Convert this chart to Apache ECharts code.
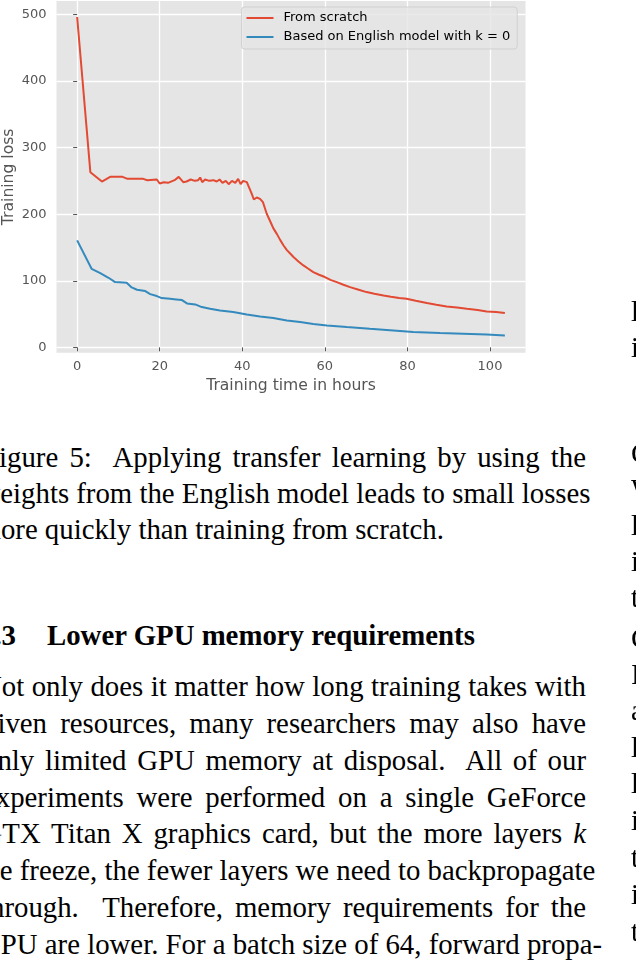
<!DOCTYPE html>
<html>
<head>
<meta charset="utf-8">
<script src="https://cdn.jsdelivr.net/npm/echarts@6/dist/echarts.min.js"></script>
<style>
  html, body { margin:0; padding:0; background:#fff; }
  #page { position:relative; width:636px; height:975px; overflow:hidden; background:#fff; }
  #chart { position:absolute; left:0; top:0; width:636px; height:410px; }
  .ln { position:absolute; font-family:"Liberation Serif", serif; font-size:28.8px; line-height:36px; color:#000;
        white-space:nowrap; text-align:justify; text-align-last:justify; }
  .col2 { left:631px; width:603px; text-align:left; text-align-last:left; }
  .last { text-align-last:left; }
  .hd { font-weight:bold; text-align-last:left; }
  .secno { display:inline-block; width:67px; }
</style>
</head>
<body>
<div id="page">
  <div id="chart"></div>
  <div class="ln" style="top:439px;left:-17px;width:603px">Figure 5:&nbsp; Applying transfer learning by using the</div>
  <div class="ln" style="top:475px;left:-20.5px;width:606.5px">weights from the English model leads to small losses</div>
  <div class="ln last" style="top:511px;left:-21.5px;width:607.5px">more quickly than training from scratch.</div>
  <div class="ln hd" style="top:617px;left:-20px;width:606px"><span class="secno">4.3</span>Lower GPU memory requirements</div>
  <div class="ln" style="top:668px;left:-19px;width:605px">Not only does it matter how long training takes with</div>
  <div class="ln" style="top:705px;left:-17px;width:603px">given resources, many researchers may also have</div>
  <div class="ln" style="top:742px;left:-17px;width:603px">only limited GPU memory at disposal.&nbsp; All of our</div>
  <div class="ln" style="top:779px;left:-17px;width:603px">experiments were performed on a single GeForce</div>
  <div class="ln" style="top:815px;left:-18.5px;width:604.5px">GTX Titan X graphics card, but the more layers <i>k</i></div>
  <div class="ln" style="top:852px;left:-21px;width:607px">we freeze, the fewer layers we need to backpropagate</div>
  <div class="ln" style="top:889px;left:-18px;width:604px">through.&nbsp; Therefore, memory requirements for the</div>
  <div class="ln" style="top:926px;left:-20px;width:606px">GPU are lower. For a batch size of 64, forward propa-</div>

  <div class="ln col2" style="top:293px">lead to a lower loss than training</div>
  <div class="ln col2" style="top:329px">in the same amount of time.</div>
  <div class="ln col2" style="top:435px">Considering the results,</div>
  <div class="ln col2" style="top:471px">We observe that</div>
  <div class="ln col2" style="top:507px">layers of the model</div>
  <div class="ln col2" style="top:543px">in all cases</div>
  <div class="ln col2" style="top:579px">to the model</div>
  <div class="ln col2" style="top:620px">Cross-lingual</div>
  <div class="ln col2" style="top:656px">In the</div>
  <div class="ln col2" style="top:692px">a model</div>
  <div class="ln col2" style="top:729px">languages</div>
  <div class="ln col2" style="top:765px">layers</div>
  <div class="ln col2" style="top:802px">in the</div>
  <div class="ln col2" style="top:839px">the</div>
  <div class="ln col2" style="top:876px">is</div>
  <div class="ln col2" style="top:913px">to</div>
</div>
<script>
// ---- data ----
const xTickValues = [0, 20, 40, 60, 80, 100];
const yTickValues = [0, 100, 200, 300, 400, 500];
const seriesNames = ['From scratch', 'Based on English model with k = 0'];

// From scratch (training time in hours, training loss)
const scratchHours = [0, 3.2, 6, 8, 11, 12.2, 16, 17, 19.3, 20, 21, 22, 23.6, 24.6, 25.7, 26.5, 27.5, 28.5, 29.3, 29.8,
  30.3, 31, 32, 33, 33.8, 34.5, 35.2, 36, 36.7, 37.5, 38.3, 39, 39.6, 40.2, 41.1, 42.2, 42.8, 43.5, 44.3, 45,
  45.9, 47, 47.5, 48.4, 49.2, 50, 50.8, 51.6, 52.4, 53.6, 54.8, 56, 57.2, 58.6, 60, 61.5, 62.9, 64.5, 66.1, 68,
  70.1, 72, 74.2, 76, 78, 79.8, 82, 84.7, 87, 89.5, 92, 94.4, 97, 99.2, 101.5, 103.6];
const scratchLoss = [496, 263, 249, 256, 256, 253, 253, 251, 252, 246, 248, 247, 251, 256, 248, 249, 252, 250, 251, 255,
  248, 252, 250, 251, 249, 252, 247, 250, 245, 250, 247, 253, 245, 250, 248, 232, 222, 225, 223, 218,
  201, 186, 179, 170, 161, 153, 146, 141, 135.6, 129, 123, 118, 113, 109, 105.6, 101, 98, 94, 90.5, 87,
  83, 80.5, 78, 76, 74, 73, 70, 66.5, 64, 61.5, 60, 58, 56, 54, 53, 51.5];

// Based on English model with k = 0
const englishHours = [0, 3.5, 5.6, 7.6, 9.2, 11.2, 12, 13.2, 14.5, 16.5, 17.7, 19.3, 20.5, 22.5, 24, 25.4, 26.6, 28.6,
  30.2, 32.2, 34.6, 37.8, 41.1, 44.3, 47.5, 50.8, 54, 57.2, 60.5, 65.3, 70.9, 76.6, 81.4, 87.9, 93.5, 99.2, 103.6];
const englishLoss = [160.7, 118, 111.5, 104.5, 98, 97.5, 97, 90, 86.5, 84.5, 80, 77, 74, 73, 72, 71, 66, 64.5,
  60.5, 58, 55.5, 53, 49.5, 46.5, 44, 40.5, 38, 35, 33, 30.5, 28, 25.5, 23, 21.5, 20.5, 19.5, 18];

const pairs = (xs, ys) => xs.map((x, i) => [x, ys[i]]);

const chart = echarts.init(document.getElementById('chart'), null, { renderer: 'canvas' });
const FONT = 'DejaVu Sans';
const GREY = '#555555';

chart.setOption({
  animation: false,
  backgroundColor: '#ffffff',
  grid: {
    left: 56.5, top: 1, width: 469, height: 351.7,
    outerBoundsMode: 'none', containLabel: false,
    show: true, backgroundColor: '#E5E5E5', borderWidth: 0
  },
  legend: {
    orient: 'vertical',
    left: 241.5, top: 7,
    padding: [4, 7, 5, 5],
    itemGap: 5,
    itemWidth: 27, itemHeight: 2,
    icon: 'rect',
    backgroundColor: 'rgba(229,229,229,0.8)',
    borderColor: 'rgba(204,204,204,0.8)',
    borderWidth: 1,
    borderRadius: 3,
    textStyle: { fontFamily: FONT, fontSize: 13, color: '#000', lineHeight: 14, padding: [0, 0, 0, 5] },
    data: seriesNames
  },
  xAxis: {
    type: 'value', min: -5, max: 108.6,
    axisLine: { show: false },
    axisTick: { show: true, length: 4, lineStyle: { color: GREY, width: 1 }, customValues: xTickValues },
    axisLabel: { customValues: xTickValues, color: GREY, fontFamily: FONT, fontSize: 13, margin: 7 },
    splitLine: { show: true, lineStyle: { color: '#ffffff', width: 1.3 } },
    name: 'Training time in hours', nameLocation: 'middle', nameGap: 24,
    nameTextStyle: { color: GREY, fontFamily: FONT, fontSize: 15.6 }
  },
  yAxis: {
    type: 'value', min: -8, max: 520,
    axisLine: { show: false },
    axisTick: { show: true, length: 4, lineStyle: { color: GREY, width: 1 }, customValues: yTickValues },
    axisLabel: { customValues: yTickValues, color: GREY, fontFamily: FONT, fontSize: 13, margin: 10 },
    splitLine: { show: true, lineStyle: { color: '#ffffff', width: 1.3 } },
    name: 'Training loss', nameLocation: 'middle', nameGap: 40, nameMoveOverlap: false,
    nameTextStyle: { color: GREY, fontFamily: FONT, fontSize: 15.6 }
  },
  series: [
    { name: seriesNames[0], type: 'line', data: pairs(scratchHours, scratchLoss), symbol: 'none',
      lineStyle: { color: '#E24A33', width: 2 }, itemStyle: { color: '#E24A33' } },
    { name: seriesNames[1], type: 'line', data: pairs(englishHours, englishLoss), symbol: 'none',
      lineStyle: { color: '#348ABD', width: 2 }, itemStyle: { color: '#348ABD' } }
  ]
});
</script>
</body>
</html>
